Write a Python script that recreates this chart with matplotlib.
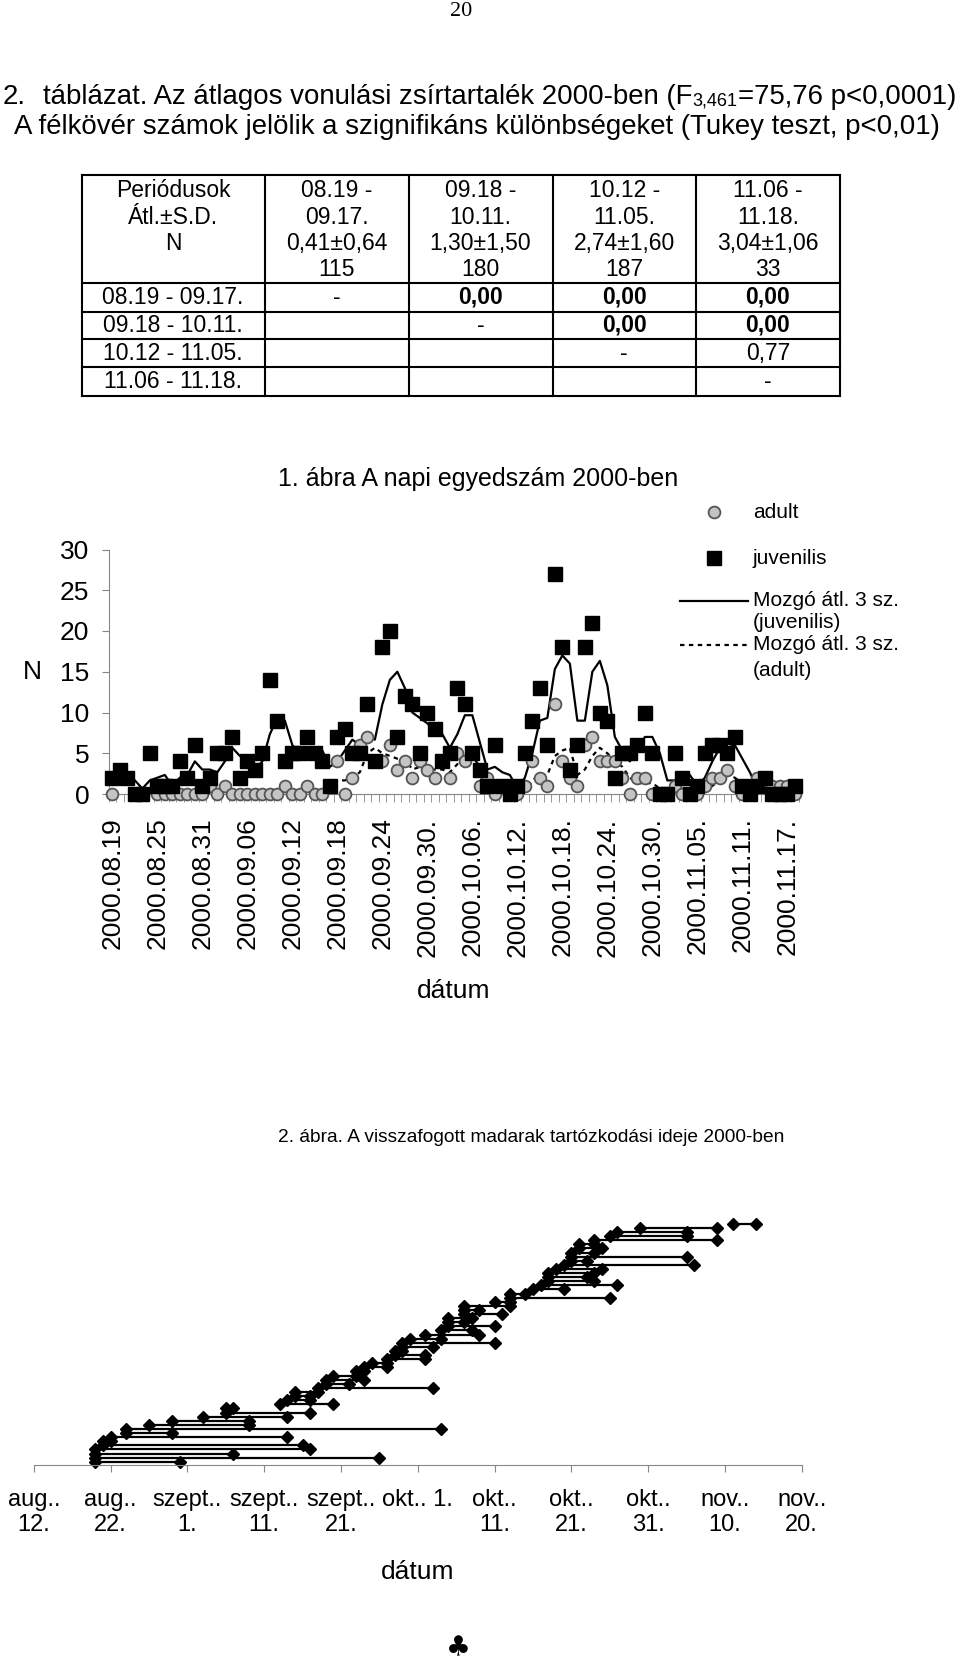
import matplotlib
matplotlib.use("Agg")
import matplotlib.pyplot as plt
import numpy as np
import pandas as pd

plt.rcParams["font.family"] = ["Liberation Sans", "DejaVu Sans"]

W, H = 960, 1659
nan = np.nan

# 2. táblázat
table_periods = ["08.19 - 09.17.", "09.18 - 10.11.", "10.12 - 11.05.", "11.06 - 11.18."]
table_heads = [["08.19 -", "09.17."], ["09.18 -", "10.11."], ["10.12 -", "11.05."], ["11.06 -", "11.18."]]
table_means = ["0,41±0,64", "1,30±1,50", "2,74±1,60", "3,04±1,06"]
table_n = [115, 180, 187, 33]
table_p = [
    [nan, 0.00, 0.00, 0.00],
    [nan, nan, 0.00, 0.00],
    [nan, nan, nan, 0.77],
    [nan, nan, nan, nan],
]

# 1. ábra - napi egyedszám, 2000.08.19 - 2000.11.18.
juvenilis = [2, 3, 2, 0, 0, 5, 1, 1, 1, 4,
             2, 6, 1, 2, 5, 5, 7, 2, 4, 3,
             5, 14, 9, 4, 5, 5, 7, 5, 4, 1,
             7, 8, 5, 5, 11, 4, 18, 20, 7, 12,
             11, 5, 10, 8, 4, 5, 13, 11, 5, 3,
             1, 6, 1, 0, 1, 5, 9, 13, 6, 27,
             18, 3, 6, 18, 21, 10, 9, 2, 5, 5,
             6, 10, 5, 0, 0, 5, 2, 0, 1, 5,
             6, 6, 5, 7, 1, 0, 1, 2, 0, 0,
             0, 1]
adult = [0, nan, nan, nan, nan, nan, 0, 0, 0, 0,
         0, 0, 0, 1, 0, 1, 0, 0, 0, 0,
         0, 0, 0, 1, 0, 0, 1, 0, 0, 1,
         4, 0, 2, 6, 7, 4, 4, 6, 3, 4,
         2, 4, 3, 2, 4, 2, 5, 4, 5, 1,
         2, 0, 1, 0, 0, 1, 4, 2, 1, 11,
         4, 2, 1, 6, 7, 4, 4, 4, 2, 0,
         2, 2, 0, 0, 0, 1, 0, 0, 0, 1,
         2, 2, 3, 1, 0, 0, 2, 1, 1, 1,
         1, 0]
date_labels = ["2000.08.19", "2000.08.25", "2000.08.31", "2000.09.06", "2000.09.12",
               "2000.09.18", "2000.09.24", "2000.09.30.", "2000.10.06.", "2000.10.12.",
               "2000.10.18.", "2000.10.24.", "2000.10.30.", "2000.11.05.", "2000.11.11.",
               "2000.11.17."]
legend_labels = ["adult", "juvenilis", "Mozgó átl. 3 sz.", "(juvenilis)", "Mozgó átl. 3 sz.", "(adult)"]

# 2. ábra - visszafogott madarak (első és utolsó fogás)
first_capture = ["08.20", "08.20", "08.20", "08.20", "08.21", "08.21", "08.22", "08.24", "08.24", "08.27",
                 "08.30", "09.03", "09.06", "09.06", "09.13", "09.14", "09.15", "09.15", "09.18", "09.19",
                 "09.19", "09.20", "09.23", "09.24", "09.25", "09.27", "09.28", "09.28", "09.29", "09.29",
                 "09.30", "10.02", "10.04", "10.05", "10.05", "10.05", "10.07", "10.07", "10.07", "10.11",
                 "10.13", "10.13", "10.16", "10.17", "10.18", "10.18", "10.18", "10.19", "10.20", "10.21",
                 "10.21", "10.21", "10.22", "10.22", "10.24", "10.26", "10.27", "10.30", "11.11"]
last_capture = ["08.31", "09.26", "09.07", "09.17", "09.16", "08.22", "09.14", "08.30", "10.04", "09.09",
                "09.09", "09.14", "09.17", "09.07", "09.20", "09.17", "09.17", "09.18", "10.03", "09.22",
                "09.24", "09.23", "09.24", "09.27", "09.27", "10.02", "10.02", "09.29", "10.03", "10.11",
                "10.04", "10.09", "10.08", "10.11", "10.07", "10.08", "10.12", "10.09", "10.13", "10.13",
                "10.26", "10.15", "10.20", "10.27", "10.24", "10.23", "10.24", "10.25", "11.06", "10.23",
                "11.05", "10.24", "10.25", "10.24", "11.09", "11.05", "11.05", "11.09", "11.14"]
axis2_labels = ["aug..\n12.", "aug..\n22.", "szept..\n1.", "szept..\n11.", "szept..\n21.", "okt.. 1.",
                "okt..\n11.", "okt..\n21.", "okt..\n31.", "nov..\n10.", "nov..\n20."]

GRAY = "#868686"


def to_dates(values):
    return pd.to_datetime(["2000-" + v.replace(".", "-") for v in values]).to_pydatetime()


fig = plt.figure(figsize=(W / 100, H / 100), dpi=100)
page = fig.add_axes([0, 0, 1, 1])
page.set_xlim(0, W)
page.set_ylim(H, 0)
page.axis("off")

page.text(461, 12, "20", family=["Liberation Serif", "DejaVu Serif"], fontsize=16,
          ha="center", va="center")

# table title, with subscript
page.text(3, 97, "2.", fontsize=19.9, va="center")
t_main = page.text(43, 97, "táblázat. Az átlagos vonulási zsírtartalék 2000-ben (F",
                   fontsize=19.9, va="center")
t_sub = page.annotate("3,461", xy=(1, 0), xycoords=t_main, fontsize=13, va="bottom", ha="left")
page.annotate("=75,76 p<0,0001)", xy=(1, 0), xycoords=(t_sub, t_main), fontsize=19.9,
              va="bottom", ha="left")
page.text(477, 127, "A félkövér számok jelölik a szignifikáns különbségeket (Tukey teszt, p<0,01)",
          fontsize=19.9, ha="center", va="center")

# table grid
col_x = [81.5, 264.5, 408.5, 552.5, 696, 840]
row_y = [175, 283, 311.5, 339.3, 367.3, 396]
for x in col_x:
    page.plot([x, x], [row_y[0], row_y[-1]], color="black", lw=1.5)
for y in row_y:
    page.plot([col_x[0], col_x[-1]], [y, y], color="black", lw=1.5)

tfs = 16.5
head_y = [190.7, 217.3, 243.3, 269.3]
c0 = (col_x[0] + col_x[1]) / 2
for text, y in zip(["Periódusok", "Átl.±S.D.", "N"], head_y):
    page.text(c0, y, text, fontsize=tfs, ha="center", va="center")
for j in range(4):
    cx = (col_x[j + 1] + col_x[j + 2]) / 2
    lines = table_heads[j] + [table_means[j], str(table_n[j])]
    for text, y in zip(lines, head_y):
        page.text(cx, y, text, fontsize=tfs, ha="center", va="center")
for i in range(4):
    cy = (row_y[i + 1] + row_y[i + 2]) / 2
    page.text(c0, cy, table_periods[i], fontsize=tfs, ha="center", va="center")
    for j in range(4):
        cx = (col_x[j + 1] + col_x[j + 2]) / 2
        if j == i:
            page.text(cx, cy, "-", fontsize=tfs, ha="center", va="center")
        elif j > i:
            p = table_p[i][j]
            page.text(cx, cy, f"{p:.2f}".replace(".", ","), fontsize=tfs, ha="center",
                      va="center", weight="bold" if p < 0.01 else "normal")

# 1. ábra
page.text(278, 479, "1. ábra A napi egyedszám 2000-ben", fontsize=18, va="center")

ax1 = fig.add_axes([108.6 / W, 1 - 794 / H, 690 / W, 244.5 / H])
ax1.set_facecolor("none")
days = np.arange(len(juvenilis))
juv = pd.Series(juvenilis, dtype=float)
ad = pd.Series(adult, dtype=float)
ax1.plot(days, juv.rolling(3).mean(), color="black", lw=1.6, zorder=2)
ax1.plot(days, ad.rolling(3).mean(), color="black", lw=1.6, ls=(0, (2, 2)), zorder=2)
ax1.plot(days, ad, "o", ms=8.5, mfc="#c4c4c4", mec="#555555", mew=1.3, ls="none",
         clip_on=False, zorder=3)
ax1.plot(days, juv, "s", ms=9.5, color="black", ls="none", clip_on=False, zorder=4)
ax1.set_xlim(-0.5, len(days) - 0.5)
ax1.set_ylim(0, 30)
for side in ["top", "right"]:
    ax1.spines[side].set_visible(False)
for side in ["left", "bottom"]:
    ax1.spines[side].set_color(GRAY)
ax1.set_yticks(range(0, 31, 5))
ax1.tick_params(axis="y", direction="out", length=5, color=GRAY, labelsize=19, pad=9)
ax1.set_xticks(days[::6], date_labels, rotation=90)
ax1.tick_params(axis="x", which="major", length=0, labelsize=19, pad=17)
ax1.set_xticks(np.arange(-0.5, len(days)), minor=True)
ax1.tick_params(axis="x", which="minor", direction="out", length=5.5, color=GRAY)
ax1.set_xlabel("dátum", fontsize=19, labelpad=16)
ax1.set_ylabel("N", rotation=0, fontsize=19, ha="center", va="center")
ax1.yaxis.set_label_coords((32 - 108.6) / 690, (794 - 672) / 244.5)

# legend of 1. ábra
page.plot([714], [512], "o", ms=8.5, mfc="#c4c4c4", mec="#555555", mew=1.3)
page.plot([714], [558], "s", ms=9.5, color="black")
page.plot([680, 748], [601, 601], color="black", lw=1.6)
page.plot([680, 748], [645, 645], color="black", lw=1.6, ls=(0, (2, 2)))
for text, y in zip(legend_labels, [512, 558, 601, 623, 645, 671]):
    page.text(753, y, text, fontsize=15, va="center")

# 2. ábra
page.text(278, 1137, "2. ábra. A visszafogott madarak tartózkodási ideje 2000-ben",
          fontsize=13.8, va="center")

ax2 = fig.add_axes([33.8 / W, 1 - 1465 / H, 767.9 / W, 315 / H])
ax2.set_facecolor("none")
starts = to_dates(first_capture)
ends = to_dates(last_capture)
for i, (s, e) in enumerate(zip(starts, ends)):
    ax2.plot([s, e], [i, i], color="black", lw=1.6, marker="D", ms=6.5, clip_on=False)
ticks2 = pd.date_range("2000-08-12", "2000-11-20", freq="10D").to_pydatetime()
ax2.set_xlim(ticks2[0], ticks2[-1])
ax2.set_ylim(-0.8, 76)
for side in ["top", "right", "left"]:
    ax2.spines[side].set_visible(False)
ax2.spines["bottom"].set_color(GRAY)
ax2.set_yticks([])
ax2.set_xticks(ticks2, axis2_labels)
ax2.tick_params(axis="x", direction="out", length=5, color=GRAY, labelsize=17, pad=12)
ax2.set_xlabel("dátum", fontsize=19, labelpad=17)

page.text(458, 1648, "\u2663", fontsize=20, ha="center", va="center", family=["DejaVu Sans"])

fig.savefig("out.png", dpi=100)
